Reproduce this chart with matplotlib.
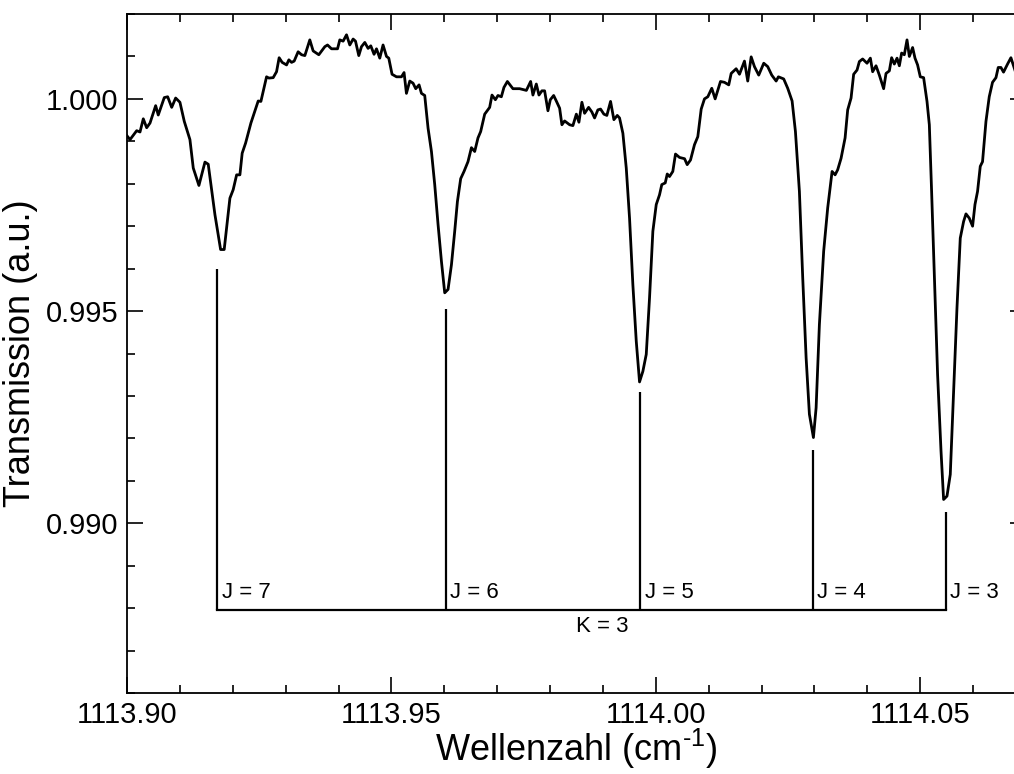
import matplotlib
matplotlib.use("Agg")
import matplotlib.pyplot as plt
from matplotlib.ticker import MultipleLocator, FormatStrFormatter

# spectrum (wavenumber in cm^-1, transmission in a.u.)
wavenumber = [
    1113.90000, 1113.90057, 1113.90183, 1113.90246, 1113.90308, 1113.90372, 1113.90435, 1113.90542,
    1113.90591, 1113.90705, 1113.90769, 1113.90845, 1113.90920, 1113.91001, 1113.91083, 1113.91190,
    1113.91253, 1113.91360, 1113.91474, 1113.91536, 1113.91663, 1113.91770, 1113.91838, 1113.91946,
    1113.92008, 1113.92073, 1113.92135, 1113.92178, 1113.92243, 1113.92343, 1113.92481, 1113.92532,
    1113.92639, 1113.92683, 1113.92764, 1113.92828, 1113.92877, 1113.92934, 1113.93017, 1113.93061,
    1113.93112, 1113.93161, 1113.93236, 1113.93301, 1113.93363, 1113.93457, 1113.93520, 1113.93627,
    1113.93741, 1113.93792, 1113.93867, 1113.93981, 1113.94024, 1113.94087, 1113.94151, 1113.94213,
    1113.94276, 1113.94321, 1113.94383, 1113.94434, 1113.94497, 1113.94559, 1113.94610, 1113.94672,
    1113.94718, 1113.94780, 1113.94842, 1113.94907, 1113.94950, 1113.95012, 1113.95096, 1113.95190,
    1113.95239, 1113.95284, 1113.95347, 1113.95409, 1113.95460, 1113.95523, 1113.95568, 1113.95630,
    1113.95693, 1113.95757, 1113.95819, 1113.95882, 1113.95946, 1113.96008, 1113.96071, 1113.96135,
    1113.96197, 1113.96248, 1113.96310, 1113.96373, 1113.96448, 1113.96513, 1113.96575, 1113.96637,
    1113.96688, 1113.96764, 1113.96858, 1113.96902, 1113.96966, 1113.97015, 1113.97079, 1113.97128,
    1113.97193, 1113.97298, 1113.97425, 1113.97552, 1113.97633, 1113.97676, 1113.97740, 1113.97790,
    1113.97846, 1113.97897, 1113.97960, 1113.98005, 1113.98068, 1113.98118, 1113.98181, 1113.98224,
    1113.98275, 1113.98370, 1113.98432, 1113.98497, 1113.98546, 1113.98602, 1113.98653, 1113.98729,
    1113.98791, 1113.98842, 1113.98904, 1113.98955, 1113.99018, 1113.99074, 1113.99144, 1113.99207,
    1113.99271, 1113.99314, 1113.99377, 1113.99441, 1113.99503, 1113.99566, 1113.99630, 1113.99692,
    1113.99755, 1113.99819, 1113.99881, 1113.99944, 1114.00008, 1114.00070, 1114.00113, 1114.00178,
    1114.00216, 1114.00259, 1114.00321, 1114.00372, 1114.00448, 1114.00543, 1114.00593, 1114.00656,
    1114.00731, 1114.00794, 1114.00858, 1114.00920, 1114.00983, 1114.01058, 1114.01122, 1114.01223,
    1114.01298, 1114.01379, 1114.01425, 1114.01519, 1114.01582, 1114.01676, 1114.01738, 1114.01803,
    1114.01865, 1114.01946, 1114.02041, 1114.02116, 1114.02192, 1114.02275, 1114.02318, 1114.02418,
    1114.02494, 1114.02577, 1114.02640, 1114.02715, 1114.02778, 1114.02842, 1114.02904, 1114.02980,
    1114.03031, 1114.03093, 1114.03174, 1114.03250, 1114.03333, 1114.03390, 1114.03439, 1114.03503,
    1114.03579, 1114.03628, 1114.03692, 1114.03741, 1114.03805, 1114.03849, 1114.03911, 1114.03994,
    1114.04057, 1114.04100, 1114.04164, 1114.04227, 1114.04308, 1114.04353, 1114.04416, 1114.04459,
    1114.04510, 1114.04561, 1114.04605, 1114.04648, 1114.04699, 1114.04750, 1114.04794, 1114.04856,
    1114.04901, 1114.04950, 1114.05001, 1114.05064, 1114.05128, 1114.05172, 1114.05215, 1114.05266,
    1114.05328, 1114.05393, 1114.05442, 1114.05506, 1114.05568, 1114.05631, 1114.05695, 1114.05757,
    1114.05820, 1114.05865, 1114.05927, 1114.05990, 1114.06035, 1114.06084, 1114.06135, 1114.06178,
    1114.06243, 1114.06305, 1114.06367, 1114.06432, 1114.06475, 1114.06526, 1114.06575, 1114.06651,
    1114.06715, 1114.06800,
]
transmission = [
    0.99913, 0.99904, 0.99925, 0.99922, 0.99953, 0.99932, 0.99943, 0.99984,
    0.99962, 1.00003, 1.00005, 0.99980, 1.00002, 0.99992, 0.99947, 0.99904,
    0.99837, 0.99796, 0.99851, 0.99846, 0.99727, 0.99645, 0.99645, 0.99766,
    0.99786, 0.99821, 0.99821, 0.99872, 0.99896, 0.99943, 0.99995, 0.99994,
    1.00052, 1.00049, 1.00050, 1.00064, 1.00097, 1.00086, 1.00080, 1.00092,
    1.00086, 1.00089, 1.00111, 1.00104, 1.00102, 1.00139, 1.00113, 1.00104,
    1.00123, 1.00127, 1.00118, 1.00118, 1.00139, 1.00136, 1.00151, 1.00127,
    1.00141, 1.00136, 1.00102, 1.00123, 1.00133, 1.00119, 1.00125, 1.00105,
    1.00118, 1.00096, 1.00127, 1.00100, 1.00096, 1.00058, 1.00052, 1.00052,
    1.00062, 1.00013, 1.00042, 1.00037, 1.00024, 1.00033, 1.00013, 1.00008,
    0.99931, 0.99876, 0.99798, 0.99704, 0.99617, 0.99543, 0.99551, 0.99609,
    0.99688, 0.99758, 0.99812, 0.99829, 0.99852, 0.99885, 0.99876, 0.99908,
    0.99923, 0.99964, 0.99980, 1.00009, 0.99998, 1.00008, 1.00005, 1.00027,
    1.00041, 1.00024, 1.00024, 1.00020, 1.00041, 1.00009, 1.00035, 1.00009,
    1.00019, 1.00019, 0.99972, 0.99998, 1.00008, 0.99995, 0.99978, 0.99939,
    0.99948, 0.99939, 0.99937, 0.99964, 0.99945, 0.99992, 0.99966, 0.99980,
    0.99969, 0.99955, 0.99974, 0.99976, 0.99964, 0.99961, 0.99994, 0.99951,
    0.99961, 0.99955, 0.99919, 0.99837, 0.99719, 0.99562, 0.99429, 0.99333,
    0.99358, 0.99398, 0.99531, 0.99688, 0.99751, 0.99774, 0.99798, 0.99802,
    0.99823, 0.99817, 0.99829, 0.99870, 0.99862, 0.99859, 0.99845, 0.99856,
    0.99892, 0.99911, 0.99976, 1.00000, 1.00005, 1.00025, 1.00000, 1.00041,
    1.00039, 1.00033, 1.00060, 1.00071, 1.00058, 1.00089, 1.00042, 1.00099,
    1.00076, 1.00056, 1.00084, 1.00076, 1.00056, 1.00042, 1.00052, 1.00047,
    1.00025, 0.99995, 0.99923, 0.99782, 0.99578, 0.99390, 0.99257, 0.99202,
    0.99272, 0.99468, 0.99641, 0.99743, 0.99829, 0.99821, 0.99833, 0.99860,
    0.99908, 0.99974, 1.00002, 1.00058, 1.00068, 1.00088, 1.00094, 1.00084,
    1.00096, 1.00064, 1.00078, 1.00056, 1.00024, 1.00060, 1.00066, 1.00097,
    1.00082, 1.00096, 1.00078, 1.00108, 1.00104, 1.00139, 1.00100, 1.00121,
    1.00096, 1.00080, 1.00052, 1.00050, 0.99994, 0.99939, 0.99782, 0.99586,
    0.99351, 0.99170, 0.99056, 0.99064, 0.99115, 0.99311, 0.99508, 0.99672,
    0.99711, 0.99729, 0.99719, 0.99700, 0.99751, 0.99782, 0.99841, 0.99852,
    0.99947, 1.00005, 1.00039, 1.00050, 1.00074, 1.00074, 1.00063, 1.00082,
    1.00097, 1.00064,
]

# line assignment: K = 3 progression
j_values = [7, 6, 5, 4, 3]
j_positions = [1113.9171, 1113.9603, 1113.9971, 1114.0297, 1114.0549]
j_tops = [0.99598, 0.99504, 0.99309, 0.99172, 0.99026]
k_value = 3
k_baseline = 0.98795
k_label_x = 1113.9899

plt.rcParams['font.family'] = ['Liberation Sans', 'DejaVu Sans']
plt.rcParams['mathtext.fontset'] = 'custom'
plt.rcParams['mathtext.rm'] = 'Liberation Sans'
plt.rcParams['mathtext.it'] = 'Liberation Sans:italic'

fig = plt.figure(figsize=(10.14, 7.74), dpi=100)
ax = fig.add_axes([127 / 1014, 81 / 774, 899 / 1014, 679 / 774])

ax.plot(wavenumber, transmission, color='black', lw=2.0)

# assignment stick diagram
for j, xp, top in zip(j_values, j_positions, j_tops):
    ax.plot([xp, xp], [k_baseline, top], color='black', lw=1.6, solid_capstyle='butt')
    ax.annotate(f'J = {j}', (xp, k_baseline), xytext=(3, 5), textcoords='offset points',
                ha='left', va='bottom', fontsize=16)
ax.plot([j_positions[0], j_positions[-1]], [k_baseline, k_baseline], color='black', lw=1.6)
ax.annotate(f'K = {k_value}', (k_label_x, k_baseline), xytext=(0, -4),
            textcoords='offset points', ha='center', va='top', fontsize=16)

ax.set_xlim(1113.90, 1114.07)
ax.set_ylim(0.986, 1.002)
ax.xaxis.set_major_locator(MultipleLocator(0.05))
ax.xaxis.set_minor_locator(MultipleLocator(0.01))
ax.yaxis.set_major_locator(MultipleLocator(0.005))
ax.yaxis.set_minor_locator(MultipleLocator(0.001))
ax.xaxis.set_major_formatter(FormatStrFormatter('%.2f'))
ax.yaxis.set_major_formatter(FormatStrFormatter('%.3f'))
ax.tick_params(which='both', direction='in', top=True, right=True, width=1.2, labelsize=21)
ax.tick_params(which='major', length=11.5, pad=6)
ax.tick_params(which='minor', length=5.8)
for s in ax.spines.values():
    s.set_linewidth(1.3)

ax.set_xlabel('Wellenzahl (cm$^{\\text{-1}}$)', fontsize=26, labelpad=-1.5)
ax.set_ylabel('Transmission (a.u.)', fontsize=26, labelpad=6)

fig.savefig('out.png', dpi=100)
